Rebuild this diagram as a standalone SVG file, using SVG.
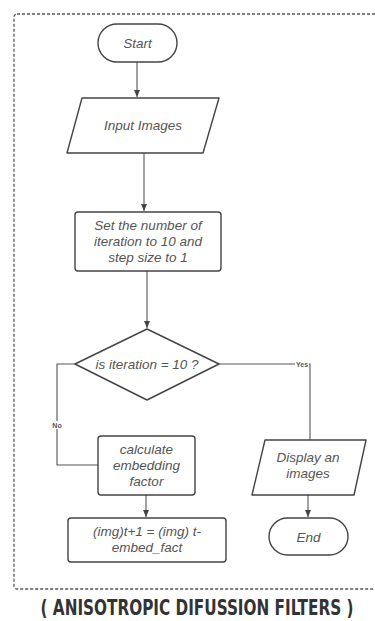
<svg xmlns="http://www.w3.org/2000/svg" width="375" height="621" viewBox="0 0 375 621">
<defs>
<marker id="arr" markerWidth="8" markerHeight="8" refX="7" refY="4" orient="auto" markerUnits="userSpaceOnUse">
<path d="M0,1 L7,4 L0,7 Z" fill="#444"/>
</marker>
<style>
.shape{fill:#fff;stroke:#444;stroke-width:1.4;stroke-linejoin:round}
.lbl{font-family:"Liberation Sans",Arial,sans-serif;font-style:italic;font-size:13.5px;fill:#555;text-anchor:middle}
.edge{fill:none;stroke:#555;stroke-width:1.1}
.tag{font-family:"Liberation Sans",Arial,sans-serif;font-weight:bold;font-size:7px;fill:#555;text-anchor:middle}
</style>
</defs>
<rect x="14" y="14" width="400" height="575" rx="3" fill="none" stroke="#555" stroke-width="1.3" stroke-dasharray="3,2"/>
<g id="connectors">
<path class="edge" d="M137,62 V97" marker-end="url(#arr)"/>
<path class="edge" d="M144,153 V211" marker-end="url(#arr)"/>
<path class="edge" d="M147,271 V328" marker-end="url(#arr)"/>
<path class="edge" d="M219,364 H310 V440"/>
<path class="edge" d="M75,364 H57 V465 H98"/>
<path class="edge" d="M146,495 V517" marker-end="url(#arr)"/>
<path class="edge" d="M308,495 V517" marker-end="url(#arr)"/>
<rect x="295" y="360" width="14" height="8" fill="#fff"/>
<text class="tag" x="302" y="366.5">Yes</text>
<rect x="52" y="421" width="11" height="8" fill="#fff"/>
<text class="tag" x="57" y="427.5">No</text>
</g>
<g id="start">
<rect class="shape" x="98" y="24" width="79" height="38" rx="19"/>
<text class="lbl" x="137.5" y="48">Start</text>
</g>
<g id="input">
<path class="shape" d="M82,98 H219 L203,153 H67 Z"/>
<text class="lbl" x="143" y="130">Input Images</text>
</g>
<g id="setiter">
<rect class="shape" x="75" y="212" width="146" height="59" rx="3"/>
<text class="lbl" x="148" y="230">Set the number of</text>
<text class="lbl" x="148" y="246">iteration to 10 and</text>
<text class="lbl" x="148" y="262">step size to 1</text>
</g>
<g id="decision">
<path class="shape" d="M147,329 L219,364 L147,400 L75,364 Z"/>
<text class="lbl" x="147" y="368.5">is iteration = 10 ?</text>
</g>
<g id="calc">
<rect class="shape" x="98" y="436" width="97" height="59" rx="3"/>
<text class="lbl" x="146.5" y="454">calculate</text>
<text class="lbl" x="146.5" y="470">embedding</text>
<text class="lbl" x="146.5" y="486">factor</text>
</g>
<g id="update">
<rect class="shape" x="68" y="518" width="158" height="44" rx="3"/>
<text class="lbl" x="147" y="536">(img)t+1 = (img) t-</text>
<text class="lbl" x="147" y="552">embed_fact</text>
</g>
<g id="display">
<path class="shape" d="M265,440 H366 L354,495 H252 Z"/>
<text class="lbl" x="308" y="462">Display an</text>
<text class="lbl" x="308" y="478">images</text>
</g>
<g id="end">
<rect class="shape" x="269" y="518" width="79" height="37" rx="18.5"/>
<text class="lbl" x="308.5" y="541.5">End</text>
</g>
<text transform="translate(197,615) scale(0.7,1)" x="0" y="0" text-anchor="middle" font-family="'DejaVu Sans Condensed','Liberation Sans Narrow',sans-serif" font-weight="bold" font-size="21" fill="#333" textLength="447" lengthAdjust="spacingAndGlyphs">( ANISOTROPIC DIFUSSION FILTERS )</text>
</svg>
